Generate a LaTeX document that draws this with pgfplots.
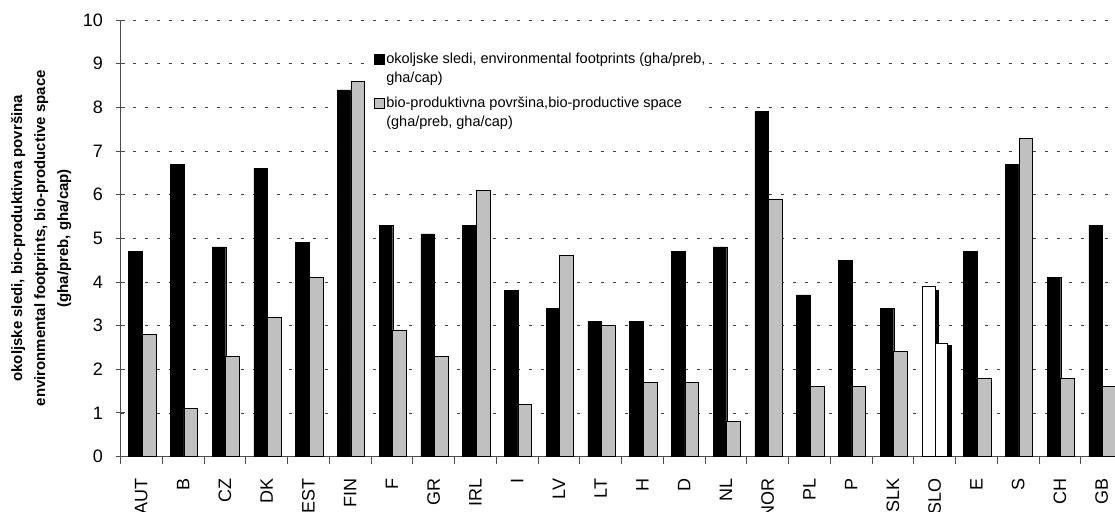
\documentclass[border=0pt]{standalone}
\usepackage{pgfplots}
\pgfplotsset{compat=1.18}
\usepackage{fontspec}
\setmainfont{Liberation Sans}
\definecolor{barg}{RGB}{192,192,192}

\pgfplotstableread{
x  fp   bio
0  4.7  2.8
1  6.7  1.1
2  4.8  2.3
3  6.6  3.2
4  4.9  4.1
5  8.4  8.6
6  5.3  2.9
7  5.1  2.3
8  5.3  6.1
9  3.8  1.2
10 3.4  4.6
11 3.1  3.0
12 3.1  1.7
13 4.7  1.7
14 4.8  0.8
15 7.9  5.9
16 3.7  1.6
17 4.5  1.6
18 3.4  2.4
20 4.7  1.8
21 6.7  7.3
22 4.1  1.8
23 5.3  1.6
}\datatable

\begin{document}
\begin{tikzpicture}
\begin{axis}[
    width=1002pt, height=436.5pt,
    scale only axis,
    xmin=-0.5, xmax=23.5,
    ymin=0, ymax=10,
    ytick={0,1,...,10},
    xtick={0,1,...,23},
    xticklabels={AUT,B,CZ,DK,EST,FIN,F,GR,IRL,I,LV,LT,H,D,NL,NOR,PL,P,SLK,SLO,E,S,CH,GB},
    minor xtick={-0.5,0.5,...,23.5},
    x tick label style={rotate=90, anchor=east, inner sep=0pt, font=\fontsize{18}{20}\selectfont},
    xticklabel shift=13pt,
    y tick label style={inner sep=0pt, font=\fontsize{18}{20}\selectfont},
    yticklabel shift=13pt,
    /pgf/number format/assume math mode=true,
    axis x line*=bottom,
    axis y line*=left,
    axis line style={draw=black!70, line width=0.8pt, -},
    major x tick style={draw=none},
    minor x tick style={draw=black!70, line width=0.8pt},
    xtick align=outside,
    minor tick length=7pt,
    y tick style={draw=black!70, line width=0.8pt},
    ytick align=center,
    major tick length=9pt,
    ymajorgrids,
    major grid style={draw=black!75, dash pattern=on 3.5pt off 8.5pt, line width=0.6pt},
    ylabel={okoljske sledi, bio-produktivna površina\\environmental footprints, bio-productive space\\(gha/preb, gha/cap)},
    ylabel style={align=center, inner sep=0pt, font=\bfseries\fontsize{15}{23}\selectfont,
      at={(axis description cs:-0.049,0.5)}, anchor=south},
    legend style={at={(0.251,0.932)}, anchor=north west, draw=none, fill=white,
      font=\fontsize{14.5}{19}\selectfont, cells={align=left, anchor=west},
      nodes={inner sep=1.5pt},
      row sep=10pt, inner sep=2pt},
    legend image code/.code={\draw[#1] (0pt,4.7pt) rectangle (10pt,14.7pt);},
    clip=false,
]
\coordinate (sw) at (rel axis cs:0,0);
\coordinate (ne) at (rel axis cs:1,1);
\addplot[ybar, bar width=13.7pt, bar shift=-6pt, fill=black, draw=black] table[x=x, y=fp] {\datatable};
\addlegendentry{okoljske sledi, environmental footprints (gha/preb,\\gha/cap)}
\addplot[ybar, bar width=13.7pt, bar shift=7.7pt, fill=barg, draw=black, line width=0.6pt] table[x=x, y=bio] {\datatable};
\addlegendentry{bio-produktivna površina,bio-productive space\\(gha/preb, gha/cap)}
% SLO: white bars with black shadow
\addplot[ybar, forget plot, bar width=12.7pt, bar shift=-2.5pt, fill=black, draw=black] coordinates {(19,3.82)};
\addplot[ybar, forget plot, bar width=12.7pt, bar shift=10.5pt, fill=black, draw=black] coordinates {(19,2.55)};
\addplot[ybar, forget plot, bar width=12.7pt, bar shift=-6pt, fill=white, draw=black, line width=0.6pt] coordinates {(19,3.9)};
\addplot[ybar, forget plot, bar width=12.7pt, bar shift=6.7pt, fill=white, draw=black, line width=0.6pt] coordinates {(19,2.6)};
\end{axis}
\pgfresetboundingbox
\useasboundingbox ([xshift=-120.5pt,yshift=-54.5pt]sw) rectangle ([xshift=-7.5pt,yshift=20pt]ne);
\end{tikzpicture}
\end{document}
